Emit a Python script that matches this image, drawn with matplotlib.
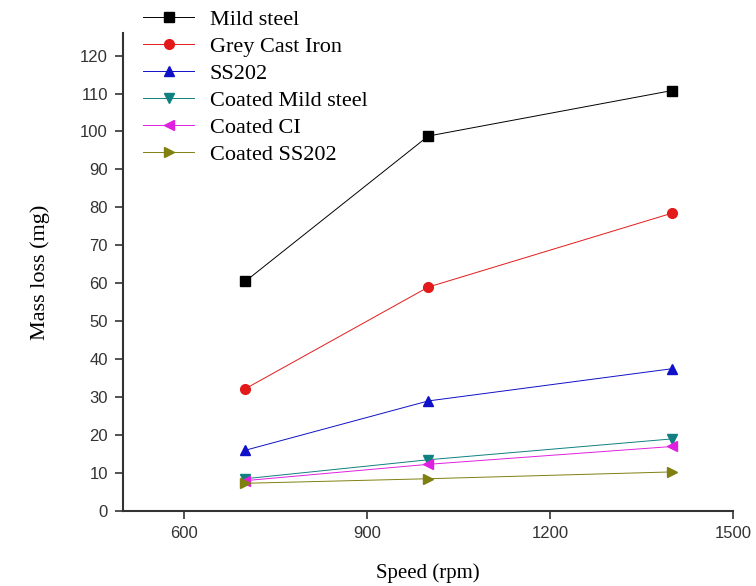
import matplotlib
matplotlib.use("Agg")
import matplotlib.pyplot as plt

speed = [700, 1000, 1400]
mild_steel = [60.5, 98.8, 110.8]
grey_cast_iron = [32.2, 59.0, 78.5]
ss202 = [16.0, 29.0, 37.5]
coated_ms = [8.5, 13.5, 19.0]
coated_ci = [8.0, 12.3, 17.0]
coated_ss202 = [7.3, 8.5, 10.3]

labels = ["Mild steel", "Grey Cast Iron", "SS202", "Coated Mild steel", "Coated CI", "Coated SS202"]
series = [mild_steel, grey_cast_iron, ss202, coated_ms, coated_ci, coated_ss202]
colors = ["#000000", "#e31a1a", "#1010c8", "#108080", "#e020e0", "#808010"]
markers = ["s", "o", "^", "v", "<", ">"]
xticks = [600, 900, 1200, 1500]
yticks = list(range(0, 121, 10))

fig = plt.figure(figsize=(7.56, 5.86), dpi=100)
ax = fig.add_axes([0.163, 0.128, 0.807, 0.816])

handles = []
for vals, lab, c, m in zip(series, labels, colors, markers):
    h, = ax.plot(speed, vals, color=c, marker=m, markersize=7, linewidth=0.7, label=lab)
    handles.append(h)

ax.set_xlim(500, 1500)
ax.set_ylim(0, 126)
ax.set_xticks(xticks)
ax.set_yticks(yticks)
for s in ["top", "right"]:
    ax.spines[s].set_visible(False)
for s in ["left", "bottom"]:
    ax.spines[s].set_linewidth(1.5)
    ax.spines[s].set_color("#333333")
ax.tick_params(direction="out", length=6, width=1.2, labelsize=12, colors="#333333", pad=5)
for t in ax.get_xticklabels() + ax.get_yticklabels():
    t.set_fontfamily("Liberation Sans")

ax.set_xlabel("Speed (rpm)", fontfamily="Liberation Serif", fontsize=15, labelpad=16)
ax.set_ylabel("Mass loss (mg)", fontfamily="Liberation Serif", fontsize=16, labelpad=22)

fig.legend(handles=handles, loc="upper left", bbox_to_anchor=(0.163, 1.018),
           frameon=False, prop={"family": "Liberation Serif", "size": 16},
           handlelength=2.3, labelspacing=0.29, handletextpad=0.7)

fig.savefig("out.png", dpi=100)
